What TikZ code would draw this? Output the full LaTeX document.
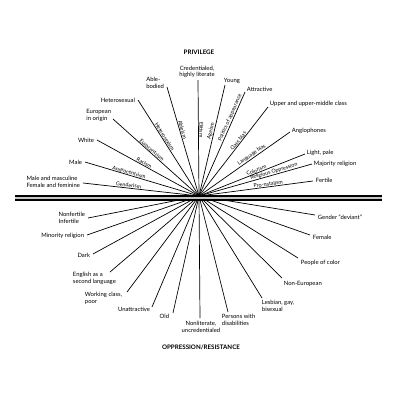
\documentclass[tikz,border=0pt]{standalone}
\usepackage{fontspec}
\setmainfont{Lato}
\usetikzlibrary{positioning}

\begin{document}
\begin{tikzpicture}[x=1pt,y=1pt,yscale=-1,xscale=1,
  ray/.style={line width=0.7pt},
  tag/.style={font=\fontsize{5.9}{6.9}\selectfont, inner sep=0.75pt},
  bias/.style={font=\fontsize{5.3}{6}\selectfont, inner sep=0.5pt, anchor=south},
  heading/.style={font=\fontsize{6.2}{7}\selectfont\bfseries, inner sep=0.75pt}]
  \useasboundingbox (0,0) rectangle (400,400);

  %Centre of the fan
  \coordinate (c) at (199,196);

  %Outer ends, privilege side
  \coordinate (e-cred) at (198,80);
  \coordinate (e-able) at (167,87);
  \coordinate (e-hetero) at (138,100);
  \coordinate (e-euro) at (113,119);
  \coordinate (e-white) at (97,140);
  \coordinate (e-male) at (85,162);
  \coordinate (e-gender) at (83,183);
  \coordinate (e-young) at (225,85);
  \coordinate (e-attr) at (245,92);
  \coordinate (e-upper) at (268,107);
  \coordinate (e-anglo) at (290,132);
  \coordinate (e-light) at (305,154);
  \coordinate (e-major) at (312,164);
  \coordinate (e-fertile) at (313,181);

  %Outer ends, oppression side
  \coordinate (e-nonfert) at (88,218);
  \coordinate (e-minor) at (87,235);
  \coordinate (e-dark) at (93,254);
  \coordinate (e-english) at (110,272);
  \coordinate (e-working) at (127,292);
  \coordinate (e-unattr) at (152,307);
  \coordinate (e-old) at (173,313);
  \coordinate (e-nonlit) at (200,318);
  \coordinate (e-persons) at (228,312);
  \coordinate (e-lesbian) at (262,298);
  \coordinate (e-noneuro) at (282,278);
  \coordinate (e-people) at (298,258);
  \coordinate (e-female) at (310,235);
  \coordinate (e-deviant) at (315,215);

  %Straight Lines, privilege side
  \draw[ray] (c) -- (e-cred) node[bias, pos=0.57, rotate=-89.5] {Elitism};
  \draw[ray] (c) -- (e-able) node[bias, pos=0.6, rotate=-73.6] {Ableism};
  \draw[ray] (c) -- (e-hetero) node[bias, pos=0.6, rotate=-57.6] {Heterosexism};
  \draw[ray] (c) -- (e-euro) node[bias, pos=0.57, rotate=-41.8] {Eurocentrism};
  \draw[ray] (c) -- (e-white) node[bias, pos=0.55, rotate=-28.8] {Racism};
  \draw[ray] (c) -- (e-male) node[bias, pos=0.62, rotate=-16.6] {Androcentrism};
  \draw[ray] (c) -- (e-gender) node[bias, pos=0.61, rotate=-6.4] {Genderism};
  \draw[ray] (c) -- (e-young) node[bias, pos=0.58, rotate=76.8] {Ageism};
  \draw[ray] (c) -- (e-attr) node[bias, pos=0.74, rotate=66.1] {Politics of appearance};
  \draw[ray] (c) -- (e-upper) node[bias, pos=0.6, rotate=52.2] {Class bias};
  \draw[ray] (c) -- (e-anglo) node[bias, pos=0.6, rotate=35.1] {Language bias};
  \draw[ray] (c) -- (e-light) node[bias, pos=0.55, rotate=21.6] {Colorism};
  \draw[ray] (c) -- (e-major) node[bias, pos=0.67, rotate=15.8] {Religious Oppression};
  \draw[ray] (c) -- (e-fertile) node[bias, pos=0.61, rotate=7.5] {Pro-natalism};

  %Straight Lines, oppression side
  \foreach \n in {nonfert,minor,dark,english,working,unattr,old,nonlit,persons,lesbian,noneuro,people,female,deviant}
    \draw[ray] (c) -- (e-\n);

  %Double bar
  \coordinate (bar-w) at (15,198);
  \coordinate (bar-e) at (382,198);
  \draw[line width=6.5pt] (bar-w) -- (bar-e);
  \draw[line width=1.4pt, gray!45] (bar-w) -- (bar-e);

  % Text Node
  \node[heading] (t-priv) at (199,52) {PRIVILEGE};
  \node[heading] (t-opp) at (201,347) {OPPRESSION/RESISTANCE};

  % Text Node
  \node[tag, anchor=south, align=center] (t-cred) at (197,79) {Credentialed,\\highly literate};
  \node[tag, anchor=south east, align=left] (t-able) at (165,89) {Able-\\bodied};
  \node[tag, anchor=east] (t-hetero) at (136,100) {Heterosexual};
  \node[tag, anchor=east, align=left] (t-euro) at (112,115) {European\\in origin};
  \node[tag, anchor=east] (t-white) at (95,140) {White};
  \node[tag, anchor=east] (t-male) at (83,162) {Male};
  \node[tag, anchor=east, align=left] (t-gender) at (81,182) {Male and masculine\\Female and feminine};
  \node[tag, anchor=south west] (t-young) at (223,85) {Young};
  \node[tag, anchor=west] (t-attr) at (246,89) {Attractive};
  \node[tag, anchor=west] (t-upper) at (269,104) {Upper and upper-middle class};
  \node[tag, anchor=west] (t-anglo) at (291,131) {Anglophones};
  \node[tag, anchor=west] (t-light) at (306,153) {Light, pale};
  \node[tag, anchor=west] (t-major) at (313,164) {Majority religion};
  \node[tag, anchor=west] (t-fertile) at (315,180) {Fertile};

  % Text Node
  \node[tag, anchor=east, align=left] (t-nonfert) at (86,218) {Nonfertile\\Infertile};
  \node[tag, anchor=east] (t-minor) at (85,236) {Minority religion};
  \node[tag, anchor=east] (t-dark) at (91,255) {Dark};
  \node[tag, anchor=north west, align=left] (t-english) at (72,271) {English as a\\second language};
  \node[tag, anchor=north west, align=left] (t-working) at (84,291) {Working class,\\poor};
  \node[tag, anchor=north east] (t-unattr) at (151,306) {Unattractive};
  \node[tag, anchor=north east] (t-old) at (170,313) {Old};
  \node[tag, anchor=north, align=center] (t-nonlit) at (201,320) {Nonliterate,\\uncredentialed};
  \node[tag, anchor=north west, align=left] (t-persons) at (221,313) {Persons with\\disabilities};
  \node[tag, anchor=north west, align=left] (t-lesbian) at (261,299) {Lesbian, gay,\\bisexual};
  \node[tag, anchor=north west] (t-noneuro) at (283,280) {Non-European};
  \node[tag, anchor=north west] (t-people) at (300,259) {People of color};
  \node[tag, anchor=west] (t-female) at (312,237) {Female};
  \node[tag, anchor=west] (t-deviant) at (317,217) {Gender ``deviant''};
\end{tikzpicture}
\end{document}
